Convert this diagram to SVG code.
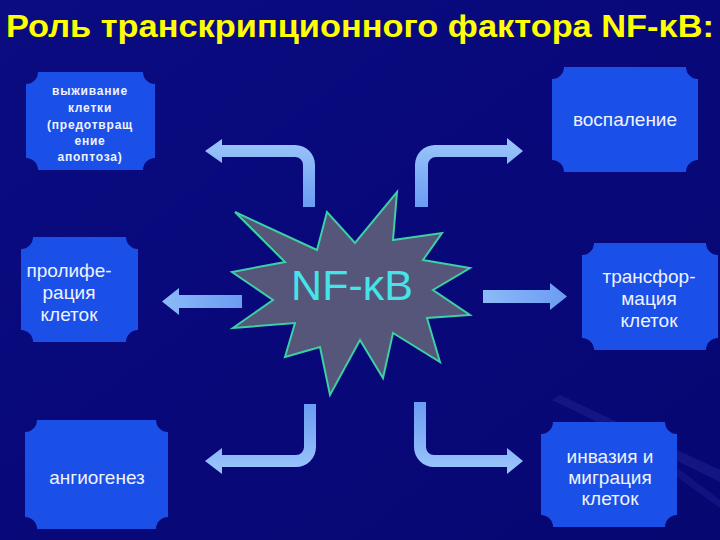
<svg xmlns="http://www.w3.org/2000/svg" width="720" height="540" viewBox="0 0 720 540">
<defs>
<linearGradient id="bg" x1="0" y1="0" x2="1" y2="1">
<stop offset="0" stop-color="#0a0c80"/>
<stop offset="0.5" stop-color="#08087a"/>
<stop offset="1" stop-color="#070772"/>
</linearGradient>
<linearGradient id="arV" x1="0" y1="0" x2="0" y2="1">
<stop offset="0" stop-color="#6a9cf2"/>
<stop offset="1" stop-color="#9cc6fb"/>
</linearGradient>
<linearGradient id="arVd" x1="0" y1="0" x2="0" y2="1">
<stop offset="0" stop-color="#9cc6fb"/>
<stop offset="1" stop-color="#6a9cf2"/>
</linearGradient>
<linearGradient id="arH" x1="0" y1="0" x2="1" y2="0">
<stop offset="0" stop-color="#8cbaf8"/>
<stop offset="1" stop-color="#6a9cf2"/>
</linearGradient>
<style>
.box{fill:#1a4fe8}
.arr{stroke:none}
.t{font-family:"Liberation Sans",Arial,sans-serif;fill:#eef3ff;text-anchor:middle}
.tn{font-size:19px}
.tb{font-size:12px;font-weight:bold;letter-spacing:0.8px}
</style>
</defs>
<rect width="720" height="540" fill="url(#bg)"/>
<polygon points="560,395 720,470 720,482 552,400" fill="#2a30a0" opacity="0.35"/>
<polygon points="640,440 720,500 720,508 632,444" fill="#2a30a0" opacity="0.3"/>

<text x="360" y="37" font-family="'Liberation Sans',Arial,sans-serif" font-size="31" font-weight="bold" fill="#ffff00" text-anchor="middle" textLength="708" lengthAdjust="spacingAndGlyphs">Роль транскрипционного фактора NF-κB:</text>

<g id="connectors">
<path class="arr" fill="url(#arVd)" d="M303,207 V165 A8 8 0 0 0 295,157 H222 V163 L205,151 L222,139 V145 H295 A20 20 0 0 1 315,165 V207 Z"/>
<path class="arr" fill="url(#arVd)" d="M415,207 V165 A20 20 0 0 1 435,145 H507 V138 L523,151 L507,164 V157 H436 A8 8 0 0 0 428,165 V207 Z"/>
<path class="arr" fill="url(#arH)" d="M242,295 H179 V288 L162,301.5 L179,315 V308 H242 Z"/>
<path class="arr" fill="url(#arH)" d="M483,290 H550 V283 L567,296.5 L550,310 V303 H483 Z"/>
<path class="arr" fill="url(#arV)" d="M304,404 V447 A8 8 0 0 1 296,455 H222 V448 L205,461 L222,474 V467 H296 A20 20 0 0 0 316,447 V404 Z"/>
<path class="arr" fill="url(#arV)" d="M414,402 V447 A20 20 0 0 0 434,467 H507 V474 L523,461 L507,448 V455 H434 A8 8 0 0 1 426,447 V402 Z"/>
</g>

<g id="nfkb">
<polygon points="235,212 317,250 327,212 355,243 397,192 393,240 442,233 423,260 470,268 433,290 470,315 427,318 440,362 393,333 383,378 360,340 330,395 320,347 285,357 295,323 233,328 273,300 232,272 285,262" fill="#56567a" stroke="#3cd0a4" stroke-width="2" stroke-linejoin="miter"/>
<text x="352" y="300" font-family="'Liberation Sans',Arial,sans-serif" font-size="43" fill="#44e4e8" text-anchor="middle">NF-κB</text>
</g>

<g id="survival">
<path class="box" d="M38,72 H143 A12 12 0 0 0 155,84 V158 A12 12 0 0 0 143,170 H38 A12 12 0 0 0 26,158 V84 A12 12 0 0 0 38,72 Z"/>
<text class="t tb" x="90" y="95">выживание</text>
<text class="t tb" x="90" y="112">клетки</text>
<text class="t tb" x="90" y="129">(предотвращ</text>
<text class="t tb" x="90" y="145">ение</text>
<text class="t tb" x="90" y="161">апоптоза)</text>
</g>

<g id="inflammation">
<path class="box" d="M564,67 H686 A12 12 0 0 0 698,79 V160 A12 12 0 0 0 686,172 H564 A12 12 0 0 0 552,160 V79 A12 12 0 0 0 564,67 Z"/>
<text class="t tn" x="625" y="126">воспаление</text>
</g>

<g id="proliferation">
<path class="box" d="M33,237 H126 A12 12 0 0 0 138,249 V330 A12 12 0 0 0 126,342 H33 A12 12 0 0 0 21,330 V249 A12 12 0 0 0 33,237 Z"/>
<text class="t tn" x="69" y="277">пролифе-</text>
<text class="t tn" x="69" y="299">рация</text>
<text class="t tn" x="69" y="321">клеток</text>
</g>

<g id="transformation">
<path class="box" d="M594,243 H706 A12 12 0 0 0 718,255 V338 A12 12 0 0 0 706,350 H594 A12 12 0 0 0 582,338 V255 A12 12 0 0 0 594,243 Z"/>
<text class="t tn" x="649" y="283">трансфор-</text>
<text class="t tn" x="649" y="305">мация</text>
<text class="t tn" x="649" y="327">клеток</text>
</g>

<g id="angiogenesis">
<path class="box" d="M37,420 H156 A12 12 0 0 0 168,432 V517 A12 12 0 0 0 156,529 H37 A12 12 0 0 0 25,517 V432 A12 12 0 0 0 37,420 Z"/>
<text class="t tn" x="97" y="484">ангиогенез</text>
</g>

<g id="invasion">
<path class="box" d="M553,422 H665 A12 12 0 0 0 677,434 V515 A12 12 0 0 0 665,527 H553 A12 12 0 0 0 541,515 V434 A12 12 0 0 0 553,422 Z"/>
<text class="t tn" x="610" y="463">инвазия и</text>
<text class="t tn" x="610" y="484">миграция</text>
<text class="t tn" x="610" y="505">клеток</text>
</g>
</svg>
